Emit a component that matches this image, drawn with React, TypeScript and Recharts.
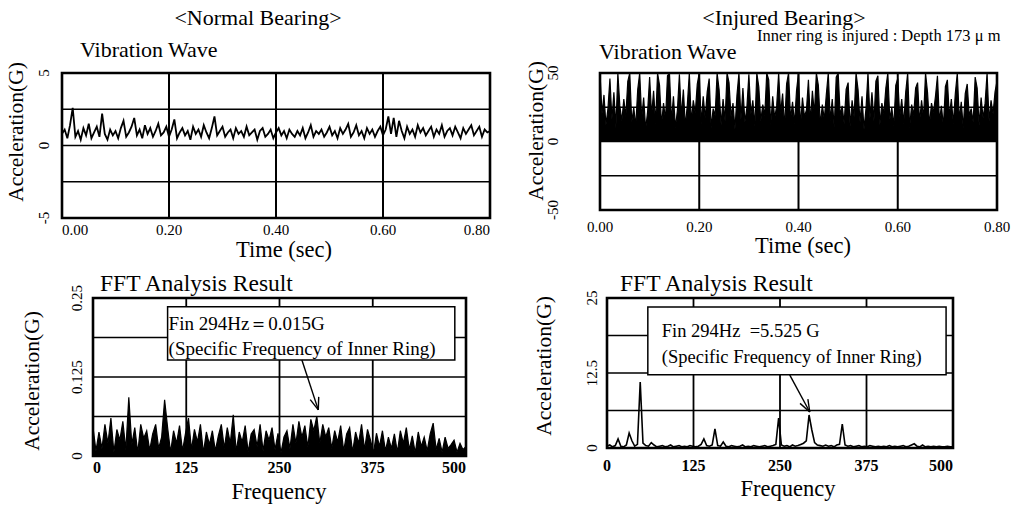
import React from 'react';
import {
  ComposedChart, Line, Area, XAxis, YAxis, CartesianGrid, ReferenceArea, ReferenceLine
} from 'recharts';

const FONT = "'Liberation Serif', 'Times New Roman', serif";

// ---- data ----
const timeTicks = [0, 0.2, 0.4, 0.6, 0.8];
const freqTicks = [0, 125, 250, 375, 500];

const normalWaveTicks = [-5, -2.5, 0, 2.5, 5];
const normalWaveLabels = [-5, 0, 5];
const injuredWaveTicks = [-50, -25, 0, 25, 50];
const injuredWaveLabels = [-50, 0, 50];
const normalFftTicks = [0, 0.0625, 0.125, 0.1875, 0.25];
const normalFftLabels = [0, 0.125, 0.25];
const injuredFftTicks = [0, 6.25, 12.5, 18.75, 25];
const injuredFftLabels = [0, 12.5, 25];

const NORMAL_WAVE_STEP = 0.005; // sec
const INJURED_WAVE_STEP = 0.004; // sec
const FFT_STEP = 4; // Hz

// normal bearing, acceleration (G)
const normalWave = [
  0.8, 1.1, 0.5, 1.4, 2.6, 0.6, 1.0, 0.4, 1.2, 0.7, 1.5, 0.5, 0.9, 1.3, 0.6, 2.2, 0.8, 0.4, 1.1, 0.7,
  1.0, 0.5, 1.2, 1.7, 0.6, 0.9, 1.3, 1.9, 0.7, 1.1, 0.5, 1.4, 0.8, 1.2, 0.6, 1.0, 1.5, 0.7, 0.9, 1.3,
  0.6, 1.1, 1.8, 0.5, 0.9, 1.2, 0.7, 1.0, 0.4, 1.3, 0.8, 1.1, 0.6, 1.4, 0.9, 0.5, 1.2, 2.0, 0.7, 1.0,
  1.3, 0.6, 0.9, 1.1, 0.5, 1.2, 0.8, 1.0, 0.6, 1.3, 0.7, 0.9, 1.1, 0.4, 1.0, 1.2, 0.6, 0.8, 1.1, 0.5,
  0.9, 1.2, 0.7, 1.0, 0.5, 1.1, 0.8, 0.6, 1.0, 0.7, 1.2, 0.5, 0.9, 1.4, 0.6, 1.0, 0.8, 1.1, 0.6, 0.9,
  1.3, 0.7, 1.0, 0.5, 1.2, 0.8, 1.1, 1.5, 0.6, 0.9, 1.4, 0.7, 1.0, 0.5, 1.2, 0.8, 1.1, 0.6, 1.0, 1.3,
  0.7, 1.1, 2.0, 0.8, 1.9, 0.6, 1.7, 1.0, 0.5, 1.3, 0.8, 1.1, 0.6, 1.4, 0.9, 1.2, 0.7, 1.0, 1.3, 0.6,
  1.1, 0.8, 1.4, 0.6, 1.0, 1.2, 0.7, 1.3, 0.9, 0.5, 1.2, 0.8, 1.1, 1.4, 0.7, 1.0, 1.3, 0.6, 1.1, 0.9,
  1.0,
];

// injured bearing, acceleration (G)
const injuredWave = [
  50, 20, 34, 12, 24, 46, 16, 36, 10, 50, 26, 15, 31, 18, 44, 50, 14, 25, 11, 38,
  50, 17, 32, 9, 22, 47, 19, 37, 13, 50, 41, 12, 28, 16, 48, 50, 15, 33, 10, 23,
  49, 18, 38, 11, 27, 50, 14, 30, 21, 42, 50, 13, 33, 17, 36, 46, 10, 24, 19, 50,
  38, 12, 31, 15, 50, 43, 18, 28, 9, 34, 50, 16, 39, 14, 25, 49, 20, 30, 11, 50,
  40, 15, 27, 19, 50, 45, 12, 33, 17, 26, 50, 21, 35, 10, 42, 50, 16, 29, 13, 37,
  50, 11, 32, 18, 23, 45, 14, 37, 20, 50, 41, 12, 27, 16, 34, 50, 15, 31, 10, 47,
  50, 19, 26, 13, 38, 43, 11, 30, 18, 50, 38, 14, 33, 9, 24, 50, 17, 36, 15, 44,
  48, 12, 28, 20, 39, 50, 16, 25, 11, 41, 46, 18, 31, 13, 36, 50, 10, 27, 19, 39,
  43, 14, 30, 17, 50, 36, 12, 28, 21, 33, 48, 15, 26, 11, 40, 45, 18, 31, 13, 35,
  50, 16, 29, 10, 35, 42, 19, 24, 14, 47, 39, 12, 32, 17, 28, 50, 15, 30, 20, 36,
  44,
];

// FFT amplitude (G), 0..500 Hz
const normalFft = [
  0.045, 0.008, 0.038, 0.012, 0.05, 0.02, 0.06, 0.006, 0.042, 0.025, 0.055, 0.01, 0.093, 0.018, 0.045, 0.005, 0.05, 0.028, 0.04, 0.009,
  0.035, 0.05, 0.012, 0.03, 0.089, 0.045, 0.006, 0.04, 0.02, 0.048, 0.008, 0.036, 0.06, 0.01, 0.042, 0.022, 0.05, 0.005, 0.038, 0.018,
  0.04, 0.008, 0.032, 0.05, 0.012, 0.045, 0.02, 0.065, 0.007, 0.038, 0.022, 0.048, 0.006, 0.035, 0.042, 0.015, 0.05, 0.008, 0.04, 0.025,
  0.045, 0.01, 0.036, 0.005, 0.03, 0.04, 0.012, 0.05, 0.02, 0.055, 0.03, 0.048, 0.014, 0.058, 0.04, 0.063, 0.02, 0.05, 0.03, 0.045,
  0.012, 0.04, 0.022, 0.048, 0.008, 0.035, 0.045, 0.006, 0.038, 0.02, 0.05, 0.01, 0.042, 0.025, 0.005, 0.036, 0.015, 0.04, 0.008, 0.03,
  0.012, 0.035, 0.006, 0.04, 0.02, 0.045, 0.01, 0.032, 0.005, 0.038, 0.015, 0.03, 0.008, 0.035, 0.052, 0.01, 0.028, 0.006, 0.03, 0.012,
  0.018, 0.025, 0.006, 0.02, 0.01, 0.015,
];

const injuredFft = [
  0.3, 0.5, 0.2, 0.4, 1.5, 0.3, 0.2, 0.5, 2.5, 1.2, 0.3, 0.6, 11, 0.8, 0.4, 0.3, 0.9, 0.5, 0.2, 0.3,
  0.4, 0.2, 0.3, 0.5, 0.2, 0.3, 0.4, 0.2, 0.3, 0.2, 0.4, 0.3, 0.2, 0.3, 0.6, 1.5, 0.4, 0.3, 0.5, 3.2,
  0.4, 0.3, 1.0, 0.3, 0.2, 0.4, 0.3, 0.2, 0.3, 0.5, 0.2, 0.3, 0.2, 0.4, 0.3, 0.2, 0.3, 0.4, 0.2, 0.3,
  0.4, 0.6, 5.0, 0.5, 0.3, 0.4, 0.2, 0.5, 0.3, 0.4, 0.6, 0.8, 1.2, 5.5, 3.0, 0.9, 0.5, 0.4, 0.3, 0.5,
  0.3, 0.4, 0.2, 0.5, 0.6, 4.0, 0.5, 0.3, 0.4, 0.2, 0.3, 0.4, 0.2, 0.3, 0.2, 0.4, 0.3, 0.2, 0.3, 0.2,
  0.3, 0.2, 0.4, 0.2, 0.3, 0.2, 0.3, 0.4, 0.2, 0.3, 0.5, 0.7, 0.3, 0.2, 0.5, 0.2, 0.3, 0.2, 0.3, 0.2,
  0.3, 0.2, 0.2, 0.3, 0.2, 0.2,
];

const toRows = (vals: number[], step: number) => vals.map((y, i) => ({ x: i * step, y }));

// ---- small pieces ----
const makeXTick = (fmt: (v: number) => string, anchors: string[], size: number, bold: boolean) =>
  (props: any) => {
    const { x, y, payload, index } = props;
    return (
      <text x={x} y={y} dy="0.71em" textAnchor={anchors[index] || 'middle'}
        fontFamily={FONT} fontSize={size} fontWeight={bold ? 'bold' : 'normal'} fill="#000">
        {fmt(payload.value)}
      </text>
    );
  };

const makeYTick = (shown: number[], size: number) => (props: any) => {
  const { x, y, payload } = props;
  if (!shown.includes(payload.value)) return <g />;
  return (
    <text x={x} y={y} transform={`rotate(-90 ${x} ${y})`} textAnchor="middle"
      dominantBaseline="central" fontFamily={FONT} fontSize={size} fill="#000">
      {String(payload.value)}
    </text>
  );
};

const gridLine = (w: number) => (p: any) => (
  <line key={p.key ?? p.index} x1={p.x1} y1={p.y1} x2={p.x2} y2={p.y2} stroke="#000" strokeWidth={w} />
);

const Arrow = (p: any) => {
  const { x1, y1, x2, y2 } = p;
  const a = Math.atan2(y2 - y1, x2 - x1);
  const L = 13, s = 0.35;
  return (
    <g>
      <line x1={x1} y1={y1} x2={x2} y2={y2} stroke="#000" strokeWidth={1.4} />
      <line x1={x2} y1={y2} x2={x2 - L * Math.cos(a - s)} y2={y2 - L * Math.sin(a - s)} stroke="#000" strokeWidth={1.4} />
      <line x1={x2} y1={y2} x2={x2 - L * Math.cos(a + s)} y2={y2 - L * Math.sin(a + s)} stroke="#000" strokeWidth={1.4} />
    </g>
  );
};

const boxText = (lines: string[], size: number, padX: number, base1: number, gap: number) => (p: any) => {
  const vb = p.viewBox || {};
  return (
    <g>
      {lines.map((t, i) => (
        <text key={i} x={vb.x + padX} y={vb.y + base1 + i * gap} fontFamily={FONT} fontSize={size}
          fill="#000" style={{ whiteSpace: 'pre' }}>
          {t}
        </text>
      ))}
    </g>
  );
};

type PanelProps = {
  left: number; top: number; width: number; height: number;
  margin: { top: number; right: number; bottom: number; left: number };
  data: { x: number; y: number }[];
  xDomain: [number, number]; xTicks: number[]; xFmt: (v: number) => string;
  xAnchors: string[]; xTickMargin: number; xSize: number; xBold: boolean;
  yDomain: [number, number]; yTicks: number[]; yShown: number[];
  yWidth: number; yTickMargin: number;
  lineWidth: number; vGrid: number; filled?: boolean;
  extra?: React.ReactNode[];
};

const Panel = (p: PanelProps) => (
  <div style={{ position: 'absolute', left: p.left, top: p.top }}>
    <ComposedChart width={p.width} height={p.height} data={p.data} margin={p.margin}>
      <CartesianGrid stroke="#000" horizontal={gridLine(1.3)} vertical={gridLine(p.vGrid)} />
      <XAxis dataKey="x" type="number" domain={p.xDomain} ticks={p.xTicks} allowDataOverflow
        axisLine={false} tickLine={false} tickSize={0} tickMargin={p.xTickMargin} height={30}
        interval={0} tick={makeXTick(p.xFmt, p.xAnchors, p.xSize, p.xBold)} />
      <YAxis type="number" domain={p.yDomain} ticks={p.yTicks} allowDataOverflow
        axisLine={false} tickLine={false} tickSize={0} tickMargin={p.yTickMargin} width={p.yWidth}
        interval={0} tick={makeYTick(p.yShown, 15)} />
      {p.filled ? (
        <Area dataKey="y" type="linear" stroke="#000" strokeWidth={p.lineWidth} fill="#000"
          fillOpacity={1} baseValue={0} dot={false} isAnimationActive={false} />
      ) : (
        <Line dataKey="y" type="linear" stroke="#000" strokeWidth={p.lineWidth} dot={false}
          isAnimationActive={false} />
      )}
      <ReferenceArea x1={p.xDomain[0]} x2={p.xDomain[1]} y1={p.yDomain[0]} y2={p.yDomain[1]}
        fill="none" stroke="#000" strokeWidth={2.6} />
      {p.extra}
    </ComposedChart>
  </div>
);

const Txt = ({ x, base, size, anchor = 'start', children }: any) => (
  <div style={{
    position: 'absolute', left: x, top: base - 0.8375 * size, fontSize: size, lineHeight: 1,
    whiteSpace: 'pre', transform: anchor === 'middle' ? 'translateX(-50%)' : undefined,
  }}>{children}</div>
);

const VTxt = ({ cx, cy, size, children }: any) => (
  <div style={{
    position: 'absolute', left: cx, top: cy, fontSize: size, lineHeight: 1, whiteSpace: 'nowrap',
    transform: 'translate(-50%, -50%) rotate(-90deg)',
  }}>{children}</div>
);

const fmt2 = (v: number) => v.toFixed(2);
const fmtInt = (v: number) => String(v);

export default function App() {
  return (
    <div style={{
      position: 'absolute', left: 0, top: 0, width: 1019, height: 510, background: '#fff',
      fontFamily: FONT, color: '#000', overflow: 'hidden',
    }}>
      <Txt x={258} base={25} size={22} anchor="middle">{'<Normal Bearing>'}</Txt>
      <Txt x={784} base={25} size={22} anchor="middle">{'<Injured Bearing>'}</Txt>
      <Txt x={80} base={57} size={22}>Vibration Wave</Txt>
      <Txt x={599} base={59} size={22}>Vibration Wave</Txt>
      <Txt x={757} base={42} size={16.5}>Inner ring is injured : Depth 173 μ m</Txt>
      <Txt x={100} base={292} size={23.5}>FFT Analysis Result</Txt>
      <Txt x={620} base={292} size={23.5}>FFT Analysis Result</Txt>
      <Txt x={284} base={258} size={22.5} anchor="middle">Time (sec)</Txt>
      <Txt x={803} base={254} size={22.5} anchor="middle">Time (sec)</Txt>
      <Txt x={279} base={500} size={22.5} anchor="middle">Frequency</Txt>
      <Txt x={788} base={497} size={22.5} anchor="middle">Frequency</Txt>
      <VTxt cx={17} cy={132} size={21.5}>Acceleration(G)</VTxt>
      <VTxt cx={537} cy={131} size={21.5}>Acceleration(G)</VTxt>
      <VTxt cx={33} cy={381} size={21.5}>Acceleration(G)</VTxt>
      <VTxt cx={545} cy={366} size={21.5}>Acceleration(G)</VTxt>

      <Panel left={0} top={60} width={510} height={200}
        margin={{ top: 13, right: 20, bottom: 12, left: 22 }}
        data={toRows(normalWave, NORMAL_WAVE_STEP)}
        xDomain={[0, 0.8]} xTicks={timeTicks} xFmt={fmt2} xAnchors={['start', 'middle', 'middle', 'middle', 'end']}
        xTickMargin={6} xSize={15} xBold={false}
        yDomain={[-5, 5]} yTicks={normalWaveTicks} yShown={normalWaveLabels} yWidth={40} yTickMargin={18}
        lineWidth={1.8} vGrid={2} />

      <Panel left={510} top={60} width={509} height={200}
        margin={{ top: 13, right: 22, bottom: 20, left: 30 }}
        data={toRows(injuredWave, INJURED_WAVE_STEP)}
        xDomain={[0, 0.8]} xTicks={timeTicks} xFmt={fmt2} xAnchors={[]}
        xTickMargin={11} xSize={15} xBold={false}
        yDomain={[-50, 50]} yTicks={injuredWaveTicks} yShown={injuredWaveLabels} yWidth={60} yTickMargin={47}
        lineWidth={1.2} vGrid={2} filled />

      <Panel left={0} top={285} width={510} height={215}
        margin={{ top: 13, right: 44, bottom: 14, left: 53 }}
        data={toRows(normalFft, FFT_STEP)}
        xDomain={[0, 500]} xTicks={freqTicks} xFmt={fmtInt} xAnchors={['start', 'middle', 'middle', 'middle', 'end']}
        xTickMargin={6} xSize={16} xBold={true}
        yDomain={[0, 0.25]} yTicks={normalFftTicks} yShown={normalFftLabels} yWidth={40} yTickMargin={16}
        lineWidth={1.2} vGrid={1.8} filled
        extra={[
          <ReferenceArea key="box" x1={100} x2={485} y1={0.152} y2={0.236} fill="#fff" fillOpacity={1}
            stroke="#000" strokeWidth={1.5}
            label={boxText(['Fin 294Hz\uFF1D0.015G', '(Specific Frequency of Inner Ring)'], 19, 1, 23, 25)} />,
          <ReferenceLine key="arrow" segment={[{ x: 280, y: 0.152 }, { x: 302, y: 0.073 }]}
            stroke="#000" shape={Arrow} />,
        ]} />

      <Panel left={510} top={285} width={509} height={215}
        margin={{ top: 13, right: 66, bottom: 22, left: 57 }}
        data={toRows(injuredFft, FFT_STEP)}
        xDomain={[0, 500]} xTicks={freqTicks} xFmt={fmtInt} xAnchors={['middle', 'middle', 'middle', 'middle', 'end']}
        xTickMargin={12} xSize={16} xBold={true}
        yDomain={[0, 25]} yTicks={injuredFftTicks} yShown={injuredFftLabels} yWidth={40} yTickMargin={15}
        lineWidth={1.6} vGrid={1.8}
        extra={[
          <ReferenceArea key="box" x1={59} x2={490} y1={12.2} y2={23.5} fill="#fff" fillOpacity={1}
            stroke="#000" strokeWidth={1.5}
            label={boxText(['Fin 294Hz  =5.525 G', '(Specific Frequency of Inner Ring)'], 18.5, 14, 30, 26)} />,
          <ReferenceLine key="arrow" segment={[{ x: 264, y: 12.2 }, { x: 293, y: 6 }]}
            stroke="#000" shape={Arrow} />,
        ]} />
    </div>
  );
}
